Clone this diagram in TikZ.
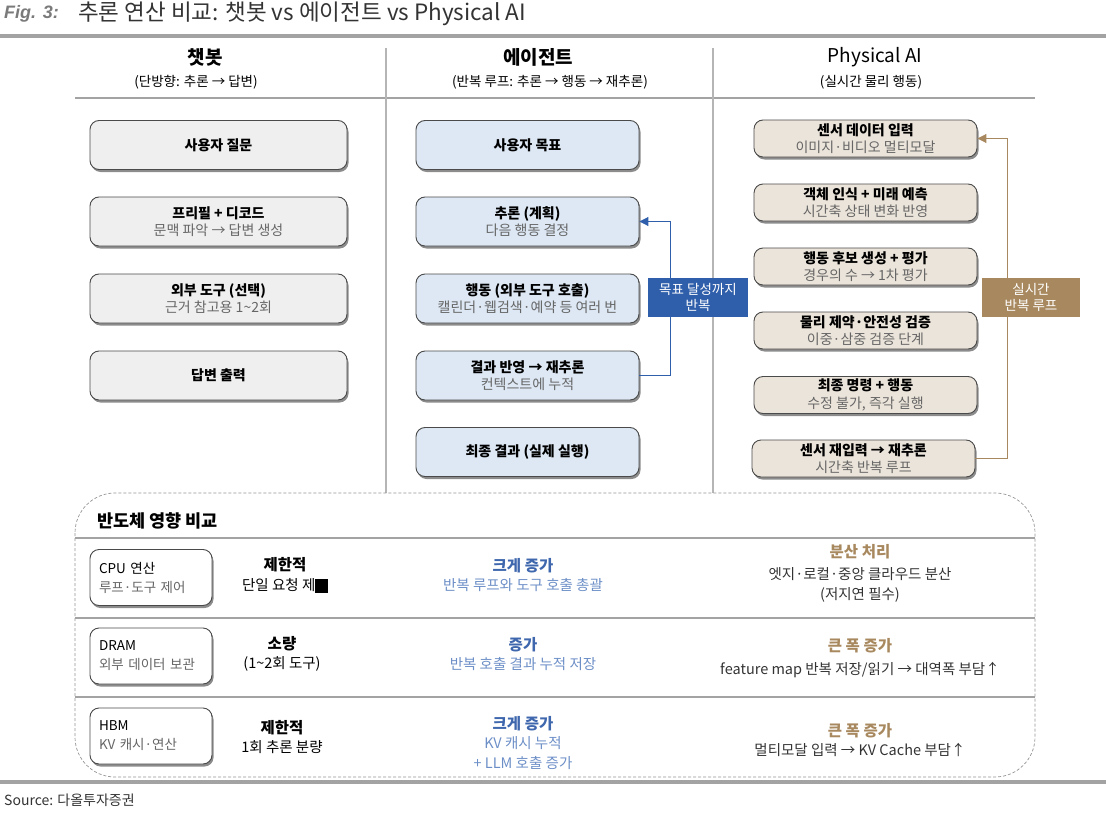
\documentclass[tikz,border=0pt]{standalone}
\usepackage{fontspec}
\setmainfont{Noto Sans CJK KR}
\newfontfamily\figfont{Liberation Sans}
\usetikzlibrary{shadows,arrows.meta}
\definecolor{rulegray}{HTML}{A3A3A3}
\definecolor{sepgray}{HTML}{B5B5B5}
\definecolor{boxline}{HTML}{4A4A4A}
\definecolor{chatfill}{HTML}{EFEFEF}
\definecolor{agentfill}{HTML}{DDE8F4}
\definecolor{physfill}{HTML}{EBE4DA}
\definecolor{subgray}{HTML}{666666}
\definecolor{loopblue}{HTML}{2F5EAA}
\definecolor{loopbrown}{HTML}{A8895F}
\definecolor{txtblue}{HTML}{3F67AD}
\definecolor{lightblue}{HTML}{6D8FC7}
\definecolor{titlegray}{HTML}{333333}
\definecolor{figgray}{HTML}{7A7A7A}
\tikzset{
  flowbox/.style={draw=boxline, line width=0.9pt, rounded corners=9pt, align=center,
    inner sep=0pt, font=\fontsize{14}{17.5}\selectfont,
    drop shadow={shadow xshift=1.5pt, shadow yshift=-2.5pt, fill=black, opacity=0.45}},
  chatbox/.style={flowbox, fill=chatfill, minimum width=257pt, minimum height=49pt},
  agentbox/.style={flowbox, fill=agentfill, minimum width=223pt, minimum height=49pt},
  physbox/.style={flowbox, fill=physfill, minimum width=223pt, minimum height=37pt},
  chipbox/.style={draw=boxline, line width=0.9pt, rounded corners=9pt, fill=white, align=left,
    text width=104pt, inner xsep=9pt, inner ysep=0pt, minimum height=56pt,
    font=\fontsize{13.5}{19}\selectfont,
    drop shadow={shadow xshift=1.5pt, shadow yshift=-2.5pt, fill=black, opacity=0.45}},
  colhead/.style={align=center, font=\fontsize{19}{25}\selectfont, text=black},
  colsub/.style={align=center, font=\fontsize{13.5}{16}\selectfont, text=black},
  cell/.style={align=center, font=\fontsize{14.5}{19.5}\selectfont, inner sep=0pt},
  looplabel/.style={align=center, text=white, inner sep=0pt, minimum width=100pt,
    minimum height=39pt, font=\fontsize{13.5}{16}\selectfont},
}
\newcommand{\cellhead}{\bfseries\fontsize{15.5}{19.5}\selectfont}
\begin{document}
\begin{tikzpicture}[x=1pt,y=-1pt]
\useasboundingbox (0,0) rectangle (1106,816);
% title
\node[anchor=west, inner sep=0pt, text=figgray, font=\figfont\bfseries\itshape\fontsize{18}{20}\selectfont] (fig) at (4,14) {Fig. 3:};
\node[anchor=west, inner sep=0pt, text=titlegray, font=\fontsize{22.5}{25}\selectfont] (title) at (78,14) {추론 연산 비교: 챗봇 vs 에이전트 vs Physical AI};
\draw[rulegray, line width=4pt] (0,36) -- (1106,36);
% column headers
\node[colhead] (h1) at (205,57) {\bfseries 챗봇};
\node[colsub] (h1s) at (196,82) {(단방향: 추론 → 답변)};
\node[colhead] (h2) at (538,57) {\bfseries 에이전트};
\node[colsub] (h2s) at (550,82) {(반복 루프: 추론 → 행동 → 재추론)};
\node[colhead] (h3) at (875,57) {Physical AI};
\node[colsub] (h3s) at (871,82) {(실시간 물리 행동)};
\draw[rulegray, line width=2.5pt] (75,98) -- (1035,98);
\draw[sepgray, line width=1.2pt] (386,48) -- (386,493);
\draw[sepgray, line width=1.2pt] (713,48) -- (713,493);
% chatbot column
\node[chatbox] (c1) at (218.5,145) {\bfseries 사용자 질문};
\node[chatbox] (c2) at (218.5,221.5) {\bfseries 프리필 + 디코드\\{\color{subgray}문맥 파악 → 답변 생성}};
\node[chatbox] (c3) at (218.5,298.5) {\bfseries 외부 도구 (선택)\\{\color{subgray}근거 참고용 1\textasciitilde2회}};
\node[chatbox] (c4) at (218.5,375.5) {\bfseries 답변 출력};
% agent column
\node[agentbox] (a1) at (527.5,145) {\bfseries 사용자 목표};
\node[agentbox] (a2) at (527.5,221.5) {\bfseries 추론 (계획)\\{\color{subgray}다음 행동 결정}};
\node[agentbox] (a3) at (527.5,298.5) {\bfseries 행동 (외부 도구 호출)\\{\color{subgray}캘린더·웹검색·예약 등 여러 번}};
\node[agentbox] (a4) at (527.5,375.5) {\bfseries 결과 반영 → 재추론\\{\color{subgray}컨텍스트에 누적}};
\node[agentbox] (a5) at (527.5,452) {\bfseries 최종 결과 (실제 실행)};
\coordinate (aloopb) at (670,375.5);
\coordinate (aloopt) at (670,221.5);
\draw[loopblue, line width=1pt, -{Triangle[length=9pt,width=9pt]}] (a4.east) -- (aloopb) -- (aloopt) -- (a2.east);
\node[looplabel, fill=loopblue] (alabel) at (698,297.5) {목표 달성까지\\반복};
% physical AI column
\node[physbox] (p1) at (865.5,138.5) {\bfseries 센서 데이터 입력\\{\color{subgray}이미지·비디오 멀티모달}};
\node[physbox] (p2) at (865.5,202.5) {\bfseries 객체 인식 + 미래 예측\\{\color{subgray}시간축 상태 변화 반영}};
\node[physbox] (p3) at (865.5,266.5) {\bfseries 행동 후보 생성 + 평가\\{\color{subgray}경우의 수 → 1차 평가}};
\node[physbox] (p4) at (865.5,330.5) {\bfseries 물리 제약·안전성 검증\\{\color{subgray}이중·삼중 검증 단계}};
\node[physbox] (p5) at (865.5,395) {\bfseries 최종 명령 + 행동\\{\color{subgray}수정 불가, 즉각 실행}};
\node[physbox] (p6) at (863.5,458.5) {\bfseries 센서 재입력 → 재추론\\{\color{subgray}시간축 반복 루프}};
\coordinate (ploopb) at (1007,458.5);
\coordinate (ploopt) at (1007,138.5);
\draw[loopbrown, line width=1pt, -{Triangle[length=9pt,width=9pt]}] (p6.east) -- (ploopb) -- (ploopt) -- (p1.east);
\node[looplabel, fill=loopbrown, minimum width=98pt] (plabel) at (1031,297.5) {실시간\\반복 루프};
% semiconductor impact section
\draw[gray!85, line width=0.7pt, dash pattern=on 3pt off 2pt, rounded corners=40pt] (75,493) rectangle (1035,777);
\node[anchor=west, inner sep=0pt, font=\bfseries\fontsize{17.5}{20}\selectfont] (sectitle) at (97,521) {반도체 영향 비교};
\draw[rulegray, line width=2pt] (75,538) -- (1035,538);
\draw[rulegray, line width=2pt] (75,618) -- (1035,618);
\draw[rulegray, line width=2pt] (75,697) -- (1035,697);
% row 1
\node[chipbox] (cpu) at (151,577.5) {CPU 연산\\{\color{subgray}루프·도구 제어}};
\node[cell] (r1c2) at (285,575) {{\cellhead 제한적}\\단일 요청 제\rule[-2.5pt]{12.5pt}{14pt}};
\node[cell, text=lightblue] (r1c3) at (523,575) {{\cellhead\color{txtblue}크게 증가}\\반복 루프와 도구 호출 총괄};
\node[cell, text=titlegray] (r1c4) at (860,573) {{\cellhead\color{loopbrown}분산 처리}\\[3pt]엣지·로컬·중앙 클라우드 분산\\(저지연 필수)};
% row 2
\node[chipbox] (dram) at (151,656) {DRAM\\{\color{subgray}외부 데이터 보관}};
\node[cell] (r2c2) at (282,654) {{\cellhead 소량}\\(1\textasciitilde2회 도구)};
\node[cell, text=lightblue] (r2c3) at (523,654) {{\cellhead\color{txtblue}증가}\\반복 호출 결과 누적 저장};
\node[cell, text=titlegray] (r2c4) at (860,658) {{\cellhead\color{loopbrown}큰 폭 증가}\\[3pt]feature map 반복 저장/읽기 → 대역폭 부담↑};
% row 3
\node[chipbox] (hbm) at (151,736) {HBM\\{\color{subgray}KV 캐시·연산}};
\node[cell] (r3c2) at (282,737) {{\cellhead 제한적}\\1회 추론 분량};
\node[cell, text=lightblue] (r3c3) at (523,743) {{\cellhead\color{txtblue}크게 증가}\\KV 캐시 누적\\+ LLM 호출 증가};
\node[cell, text=titlegray] (r3c4) at (860,740) {{\cellhead\color{loopbrown}큰 폭 증가}\\멀티모달 입력 → KV Cache 부담↑};
% bottom
\draw[rulegray, line width=4pt] (0,782) -- (1106,782);
\node[anchor=west, inner sep=0pt, text=titlegray, font=\fontsize{14}{16}\selectfont] (source) at (4,800) {Source: 다올투자증권};
\end{tikzpicture}
\end{document}
